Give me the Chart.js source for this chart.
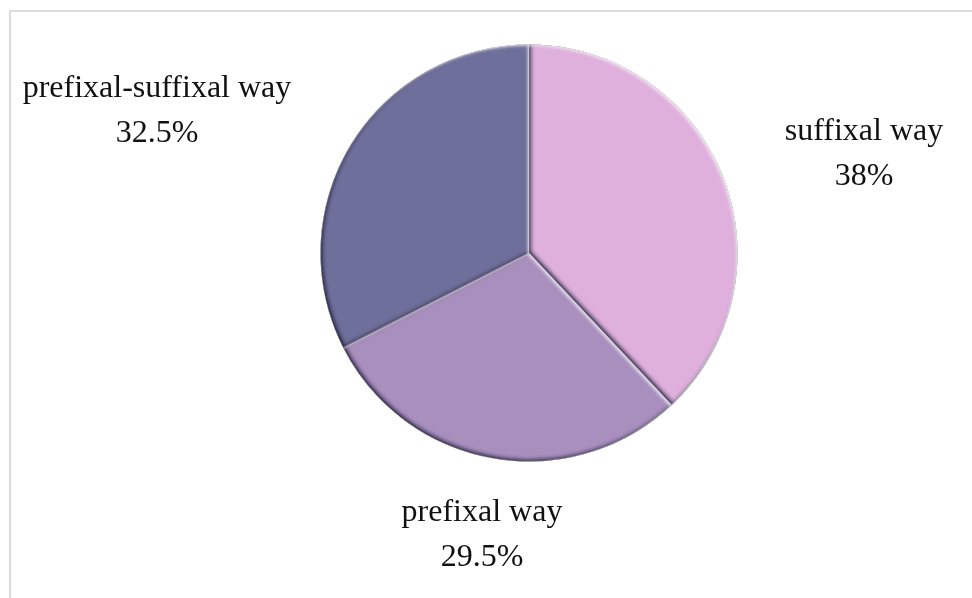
<!DOCTYPE html>
<html>
<head>
<meta charset="utf-8">
<script src="https://cdn.jsdelivr.net/npm/chart.js@4/dist/chart.umd.min.js"></script>
<style>
  html, body { margin: 0; padding: 0; background: #fff; overflow: hidden; }
  #wrap { position: relative; width: 972px; height: 598px; }
  #frame { position: absolute; left: 9px; top: 10px; width: 1000px; height: 700px; border: 2px solid #dcdcdc; box-sizing: border-box; }
  canvas { position: absolute; left: 0; top: 0; }
</style>
</head>
<body>
<div id="wrap">
  <div id="frame"></div>
  <canvas id="c" width="972" height="598"></canvas>
</div>
<script>
const categories = ["suffixal way", "prefixal way", "prefixal-suffixal way"];
const shares = [38, 29.5, 32.5];
const valueLabels = ["38%", "29.5%", "32.5%"];
const sliceColors = ["#DFB0DC", "#A98FBE", "#6F6F9B"];

// label anchor positions (centre of the two-line label) in canvas pixels
const labelAnchors = [[864, 154], [482, 535], [157, 111]];

const bevelPlugin = {
  id: 'bevel',
  afterDatasetsDraw(chart) {
    const ctx = chart.ctx;
    const meta = chart.getDatasetMeta(0);
    meta.data.forEach(arc => {
      const p = arc.getProps(['x', 'y', 'startAngle', 'endAngle', 'outerRadius'], true);
      const path = () => {
        ctx.moveTo(p.x, p.y);
        ctx.arc(p.x, p.y, p.outerRadius, p.startAngle, p.endAngle);
        ctx.closePath();
      };
      // dark inner shadow
      ctx.save();
      ctx.beginPath(); path(); ctx.clip();
      ctx.beginPath();
      ctx.rect(p.x - 2000, p.y - 2000, 4000, 4000);
      path();
      ctx.shadowColor = 'rgba(15,15,45,0.9)';
      ctx.shadowBlur = 4;
      ctx.shadowOffsetX = 1.5;
      ctx.shadowOffsetY = -1.5;
      ctx.fillStyle = '#000';
      ctx.fill('evenodd');
      ctx.restore();
      // light highlight
      ctx.save();
      ctx.beginPath(); path(); ctx.clip();
      ctx.beginPath();
      ctx.rect(p.x - 2000, p.y - 2000, 4000, 4000);
      path();
      ctx.shadowColor = 'rgba(255,255,255,0.75)';
      ctx.shadowBlur = 3;
      ctx.shadowOffsetX = -1.5;
      ctx.shadowOffsetY = 1.5;
      ctx.fillStyle = '#fff';
      ctx.fill('evenodd');
      ctx.restore();
    });
  },
  afterDraw(chart) {
    const ctx = chart.ctx;
    ctx.save();
    ctx.fillStyle = '#111';
    ctx.font = '32px "Liberation Serif", "Times New Roman", serif';
    ctx.textAlign = 'center';
    ctx.textBaseline = 'middle';
    categories.forEach((name, i) => {
      const [x, y] = labelAnchors[i];
      ctx.fillText(name, x, y - 22);
      ctx.fillText(valueLabels[i], x, y + 23);
    });
    ctx.restore();
  }
};

new Chart(document.getElementById('c'), {
  type: 'pie',
  data: {
    labels: categories,
    datasets: [{
      data: shares,
      backgroundColor: sliceColors,
      borderColor: 'rgba(255,255,255,0.5)',
      borderWidth: 1
    }]
  },
  options: {
    responsive: false,
    animation: false,
    rotation: 0,
    layout: { padding: { top: 40, bottom: 132, left: 320, right: 234 } },
    plugins: {
      legend: { display: false },
      tooltip: { enabled: false }
    }
  },
  plugins: [bevelPlugin]
});
</script>
</body>
</html>
